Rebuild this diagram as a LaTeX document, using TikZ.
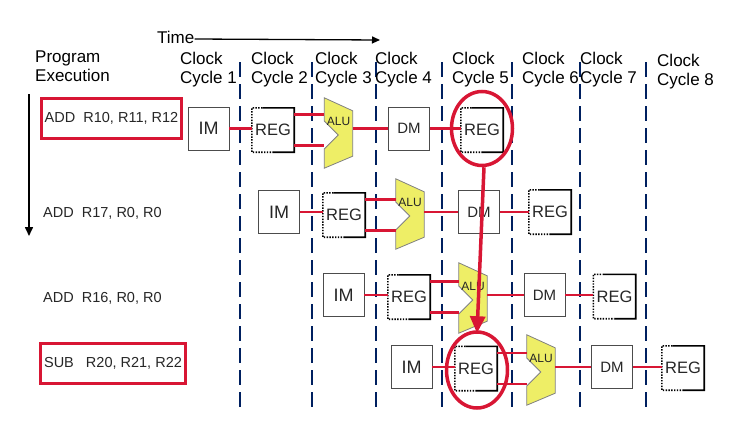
\documentclass[tikz,border=0pt]{standalone}
\usepackage{fontspec}
\setmainfont{Liberation Sans}
\usepackage{tikz}
\usetikzlibrary{arrows.meta, calc, positioning, shapes.geometric}
\definecolor{pipeRed}{RGB}{216,22,52}
\definecolor{pipeNavy}{RGB}{0,32,96}
\definecolor{aluYellow}{RGB}{238,238,102}
\definecolor{boxGray}{gray}{0.3}

\newcommand{\regedge}[1]{%
  \draw[line width=1.6pt, dash pattern=on 1.4pt off 1.4pt] ($(#1.north west)!0.25!(#1.north east)$) -- (#1.north west) -- (#1.south west) -- ($(#1.south west)!0.5!(#1.south east)$);
  \draw[line width=1.6pt] ($(#1.north west)!0.25!(#1.north east)$) -- (#1.north east) -- (#1.south east) -- ($(#1.south west)!0.5!(#1.south east)$);
}
\newcommand{\aluunit}[2]{%
  \node[alubody] (#1) at (#2) {};
  \draw[alufill] (#1.north west) -- ([yshift=-13pt]#1.north east) -- ([yshift=12pt]#1.south east) -- (#1.south west) -- ([yshift=-16pt]#1.west) -- ([xshift=14pt, yshift=-2pt]#1.west) -- ([yshift=12pt]#1.west) -- cycle;
  \node[alutext] (#1txt) at ([yshift=12pt]#1.center) {ALU};
}

\begin{document}
\begin{tikzpicture}[x=1pt, y=-1pt, >=Stealth,
    headtext/.style={align=left, anchor=north west, inner sep=0pt, font=\fontsize{17}{18.5}\selectfont},
    instr/.style={anchor=west, inner sep=0pt, font=\fontsize{14.5}{16}\selectfont, text=black!85},
    instrbox/.style={instr, anchor=center, draw=pipeRed, line width=2.6pt, minimum width=140pt, minimum height=40pt},
    unitbox/.style={draw=boxGray, line width=0.9pt, minimum width=41pt, minimum height=43pt, inner sep=0pt, text=black!85},
    regbox/.style={minimum width=42pt, minimum height=44pt, inner sep=0pt, font=\fontsize{16.5}{18}\selectfont, text=black!85},
    alubody/.style={minimum width=28pt, minimum height=70pt, inner sep=0pt},
    alufill/.style={fill=aluYellow, draw=gray, line width=0.8pt},
    alutext/.style={inner sep=0pt, font=\fontsize{12}{14}\selectfont, text=black!85},
    wire/.style={pipeRed, line width=2.5pt},
    hazard/.style={ellipse, draw=pipeRed, line width=3.5pt, minimum width=61pt, minimum height=74pt},
    hazardarrow/.style={pipeRed, line width=3.5pt, -{Triangle[length=17pt, width=15pt]}},
    cycleline/.style={pipeNavy, line width=2.5pt, dash pattern=on 15pt off 7pt}
  ]
    \useasboundingbox (0,0) rectangle (729,426);

    \draw[cycleline] (240,62) -- (240,410) (312,62) -- (312,410) (376,62) -- (376,410)
        (442,62) -- (442,410) (512,62) -- (512,410) (580,62) -- (580,410) (646,62) -- (646,410);

    \node[headtext, anchor=west] (time) at (157,37) {Time};
    \coordinate (timeend) at (380,40);
    \draw[line width=1.3pt, -{Triangle[length=8pt, width=7pt]}] ([yshift=-2pt]time.east) -- (timeend);

    \node[headtext] (prog) at (35,51) {Program\\Execution};
    \coordinate (progtop) at (29,94);
    \coordinate (progend) at (29,236);
    \draw[line width=1.6pt, -{Triangle[length=9pt, width=8pt]}] (progtop) -- (progend);

    \node[headtext] (cc1) at (180,52) {Clock\\Cycle 1};
    \node[headtext] (cc2) at (251,52) {Clock\\Cycle 2};
    \node[headtext] (cc3) at (315,52) {Clock\\Cycle 3};
    \node[headtext] (cc4) at (375,52) {Clock\\Cycle 4};
    \node[headtext] (cc5) at (452,52) {Clock\\Cycle 5};
    \node[headtext] (cc6) at (522,52) {Clock\\Cycle 6};
    \node[headtext] (cc7) at (580,52) {Clock\\Cycle 7};
    \node[headtext] (cc8) at (657,54) {Clock\\Cycle 8};

    \node[instrbox] (i1) at (111.5,118.5) {ADD\ \ R10, R11, R12};
    \node[instr] (i2) at (43,213) {ADD\ \ R17, R0, R0};
    \node[instr] (i3) at (43,298) {ADD\ \ R16, R0, R0};
    \node[instrbox, minimum width=145pt] (i4) at (113,363.5) {SUB\ \ \ R20, R21, R22};

    % first ADD
    \node[unitbox, font=\fontsize{18}{20}\selectfont] (r1im) at (208.5,128.5) {IM};
    \node[regbox] (r1reg) at (273,130) {REG};
    \regedge{r1reg}
    \aluunit{r1alu}{338.5,133}
    \node[unitbox, font=\fontsize{15}{17}\selectfont] (r1dm) at (409,128.5) {DM};
    \node[regbox] (r1wb) at (482,130) {REG};
    \regedge{r1wb}
    \draw[wire] (r1im.east) -- (r1im.east -| r1reg.west);
    \draw[wire] ([yshift=-6.5pt]r1reg.north east) -- ([yshift=-6.5pt]r1reg.north east -| r1alu.west);
    \draw[wire] ([yshift=6.5pt]r1reg.south east) -- ([yshift=6.5pt]r1reg.south east -| r1alu.west);
    \draw[wire] (r1alu.east |- r1dm.west) -- (r1dm.west);
    \draw[wire] (r1dm.east) -- (r1dm.east -| r1wb.west);

    % second ADD
    \node[unitbox, font=\fontsize{18}{20}\selectfont] (r2im) at (279,212) {IM};
    \node[regbox] (r2reg) at (344,215) {REG};
    \regedge{r2reg}
    \aluunit{r2alu}{410,214}
    \node[unitbox, font=\fontsize{15}{17}\selectfont] (r2dm) at (479,212) {DM};
    \node[regbox] (r2wb) at (550,212) {REG};
    \regedge{r2wb}
    \draw[wire] (r2im.east) -- (r2im.east -| r2reg.west);
    \draw[wire] ([yshift=-6.5pt]r2reg.north east) -- ([yshift=-6.5pt]r2reg.north east -| r2alu.west);
    \draw[wire] ([yshift=6.5pt]r2reg.south east) -- ([yshift=6.5pt]r2reg.south east -| r2alu.west);
    \draw[wire] (r2alu.east |- r2dm.west) -- (r2dm.west);
    \draw[wire] (r2dm.east) -- (r2dm.east -| r2wb.west);

    % third ADD
    \node[unitbox, font=\fontsize{18}{20}\selectfont] (r3im) at (343.5,295) {IM};
    \node[regbox] (r3reg) at (409,297) {REG};
    \regedge{r3reg}
    \aluunit{r3alu}{473,298}
    \node[unitbox, font=\fontsize{15}{17}\selectfont] (r3dm) at (544.5,295) {DM};
    \node[regbox] (r3wb) at (614.5,296.5) {REG};
    \regedge{r3wb}
    \draw[wire] (r3im.east) -- (r3im.east -| r3reg.west);
    \draw[wire] ([yshift=-6.5pt]r3reg.north east) -- ([yshift=-6.5pt]r3reg.north east -| r3alu.west);
    \draw[wire] ([yshift=6.5pt]r3reg.south east) -- ([yshift=6.5pt]r3reg.south east -| r3alu.west);
    \draw[wire] (r3alu.east |- r3dm.west) -- (r3dm.west);
    \draw[wire] (r3dm.east) -- (r3dm.east -| r3wb.west);

    % SUB
    \node[unitbox, font=\fontsize{18}{20}\selectfont] (r4im) at (411.5,367) {IM};
    \node[regbox] (r4reg) at (476,368.5) {REG};
    \regedge{r4reg}
    \aluunit{r4alu}{541,370}
    \node[unitbox, font=\fontsize{15}{17}\selectfont] (r4dm) at (612,367) {DM};
    \node[regbox] (r4wb) at (683,368) {REG};
    \regedge{r4wb}
    \draw[wire] (r4im.east) -- (r4im.east -| r4reg.west);
    \draw[wire] ([yshift=-6.5pt]r4reg.north east) -- ([yshift=-6.5pt]r4reg.north east -| r4alu.west);
    \draw[wire] ([yshift=6.5pt]r4reg.south east) -- ([yshift=6.5pt]r4reg.south east -| r4alu.west);
    \draw[wire] (r4alu.east |- r4dm.west) -- (r4dm.west);
    \draw[wire] (r4dm.east) -- (r4dm.east -| r4wb.west);

    \node[hazard] (hz1) at (482,128.5) {};
    \node[hazard, minimum height=76pt] (hz2) at (477,370) {};
    \draw[hazardarrow] ([xshift=2pt]hz1.south) -- ([yshift=-3pt]hz2.north);
\end{tikzpicture}
\end{document}
